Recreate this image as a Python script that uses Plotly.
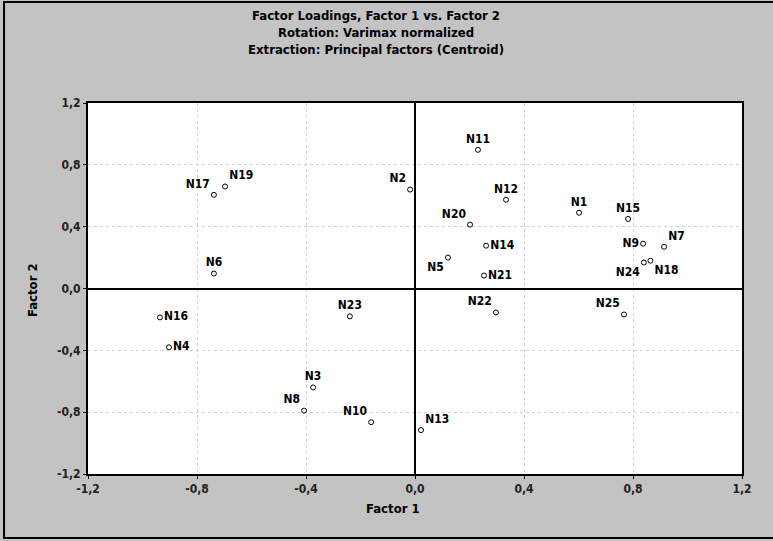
import plotly.graph_objects as go

# factor loadings
names = [f"N{i}" for i in range(1, 26)]
factor1 = [0.602, -0.018, -0.374, -0.903, 0.121, -0.738, 0.914, -0.407, 0.837, -0.161,
           0.231, 0.334, 0.022, 0.261, 0.782, -0.936, -0.738, 0.864, -0.697, 0.202,
           0.253, 0.297, -0.239, 0.840, 0.767]
factor2 = [0.490, 0.640, -0.640, -0.380, 0.200, 0.097, 0.270, -0.790, 0.290, -0.865,
           0.897, 0.574, -0.916, 0.277, 0.450, -0.187, 0.606, 0.180, 0.660, 0.413,
           0.084, -0.155, -0.180, 0.168, -0.168]
label_pos = ["top center", "top left", "top center", "middle right", "bottom left",
             "top center", "top right", "top left", "middle left", "top left",
             "top center", "top center", "top right", "middle right", "top center",
             "middle right", "top left", "bottom right", "top right", "top left",
             "middle right", "top left", "top center", "bottom left", "top left"]

tick_vals = [-1.2, -0.8, -0.4, 0.0, 0.4, 0.8, 1.2]
tick_text = ["-1,2", "-0,8", "-0,4", "0,0", "0,4", "0,8", "1,2"]

FONT = "Liberation Sans Narrow, DejaVu Sans Condensed, Arial Narrow, sans-serif"

fig = go.Figure(
    go.Scatter(
        x=factor1,
        y=factor2,
        mode="markers+text",
        text=names,
        textposition=label_pos,
        textfont=dict(family=FONT, size=12, color="black", weight="bold"),
        marker=dict(symbol="circle-open", size=5, color="black", line=dict(width=1)),
        cliponaxis=False,
        showlegend=False,
    )
)

axis_common = dict(
    range=[-1.2, 1.2],
    tickvals=tick_vals,
    ticktext=tick_text,
    showgrid=True,
    gridcolor="#d2d2d2",
    griddash="dot",
    gridwidth=1,
    zeroline=True,
    zerolinecolor="black",
    zerolinewidth=2,
    showline=True,
    linecolor="black",
    linewidth=2,
    mirror=True,
    ticks="outside",
    ticklen=3,
    tickcolor="black",
    tickfont=dict(family=FONT, size=12, color="#222222", weight="bold"),
)

fig.update_xaxes(**axis_common)
fig.update_yaxes(**axis_common)

fig.update_layout(
    width=773,
    height=541,
    margin=dict(l=88, r=31, t=103, b=67),
    paper_bgcolor="#c3c3c3",
    plot_bgcolor="white",
    font=dict(family=FONT, color="black"),
    annotations=[
        dict(
            text="Factor Loadings, Factor 1 vs. Factor 2<br>Rotation: Varimax normalized"
                 "<br>Extraction: Principal factors (Centroid)",
            xref="paper", yref="paper", x=0.44, y=1.19,
            xanchor="center", yanchor="middle", showarrow=False,
            font=dict(family=FONT, size=13, color="black", weight="bold"),
        ),
        dict(
            text="Factor 1", xref="paper", yref="paper", x=0.466, y=-0.093,
            xanchor="center", yanchor="middle", showarrow=False,
            font=dict(family=FONT, size=13, color="black", weight="bold"),
        ),
        dict(
            text="Factor 2", xref="paper", yref="paper", x=-0.084, y=0.496,
            xanchor="center", yanchor="middle", showarrow=False, textangle=-90,
            font=dict(family=FONT, size=13, color="black", weight="bold"),
        ),
    ],
    shapes=[
        # outer frame of the original window (right side falls off the page)
        dict(type="rect", xref="paper", yref="paper",
             x0=-0.1284, x1=1.08, y0=-0.1725, y1=1.272,
             line=dict(color="black", width=2), layer="below"),
    ],
)

# drop the default page margin so the figure sits at the window's corner
fig.write_html(
    "out.html",
    config={"displayModeBar": False},
    post_script="document.body.style.margin='0';",
)
